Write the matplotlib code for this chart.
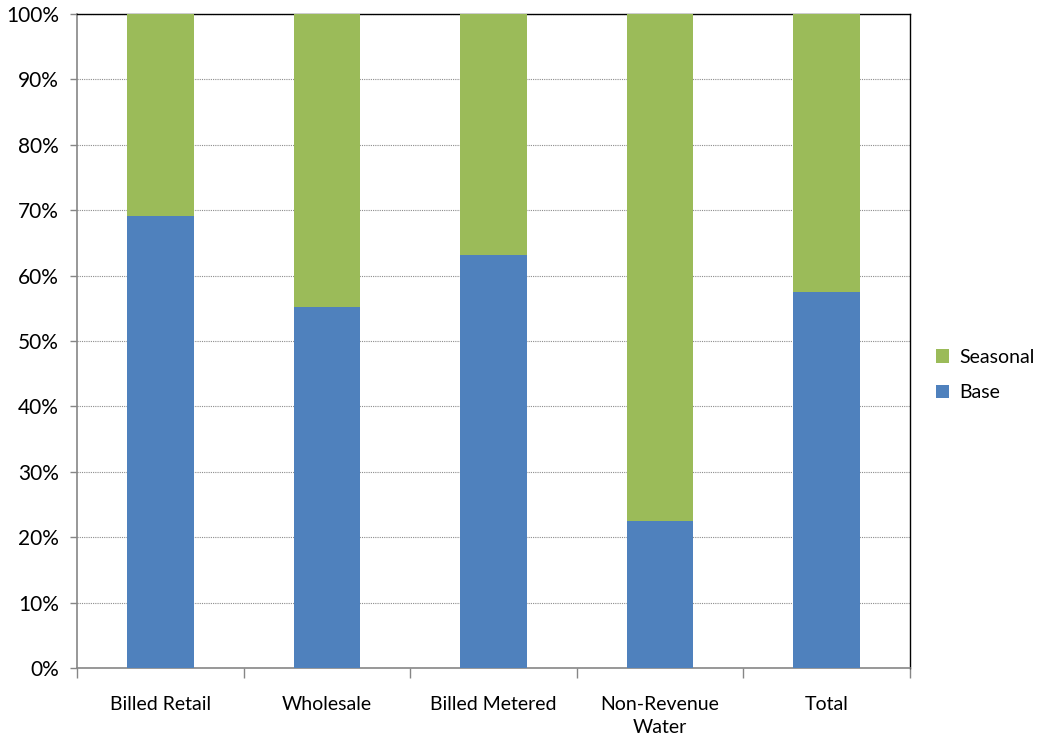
import numpy as np
import matplotlib.pyplot as plt
from matplotlib.ticker import PercentFormatter

plt.rcParams['font.family'] = ['Lato', 'DejaVu Sans']

categories = ["Billed Retail", "Wholesale", "Billed Metered", "Non-Revenue\nWater", "Total"]
base = [69.1, 55.2, 63.1, 22.5, 57.5]
seasonal = [100 - b for b in base]

blue = "#4F81BD"
green = "#9BBB59"

fig = plt.figure(figsize=(10.37, 7.42), dpi=100)
ax = fig.add_axes([0.0743, 0.0997, 0.8032, 0.8814])

x = np.arange(len(categories))
ax.bar(x, base, width=0.40, color=blue, label="Base", zorder=3)
ax.bar(x, seasonal, width=0.40, bottom=base, color=green, label="Seasonal", zorder=3)

ax.set_xlim(-0.5, len(categories) - 0.5)
ax.set_ylim(0, 100)
ax.set_yticks(np.arange(0, 101, 10))
ax.yaxis.set_major_formatter(PercentFormatter(decimals=0))
ax.grid(axis="y", color="#8c8c8c", linestyle=(0, (1, 1)), linewidth=0.8, zorder=0)

# category labels centred, tick marks on the boundaries between categories
ax.set_xticks(x)
ax.set_xticklabels(categories, fontsize=14, linespacing=1.45)
ax.set_xticks(np.arange(-0.5, len(categories)), minor=True)
ax.tick_params(axis="x", which="major", length=0, pad=20)
ax.tick_params(axis="x", which="minor", length=7, color="#868686", width=1)
ax.tick_params(axis="y", length=5, color="#868686", width=1, labelsize=15, pad=8)

for side in ("left", "bottom"):
    ax.spines[side].set_color("#868686")
    ax.spines[side].set_linewidth(1.2)
for side in ("top", "right"):
    ax.spines[side].set_color("black")
    ax.spines[side].set_linewidth(1.0)

handles, labels = ax.get_legend_handles_labels()
ax.legend(handles[::-1], labels[::-1], loc="center left", bbox_to_anchor=(1.01, 0.448),
          frameon=False, fontsize=14, handlelength=0.7, handleheight=0.7,
          handletextpad=0.5, labelspacing=0.95)

fig.savefig("out.png", dpi=100)
